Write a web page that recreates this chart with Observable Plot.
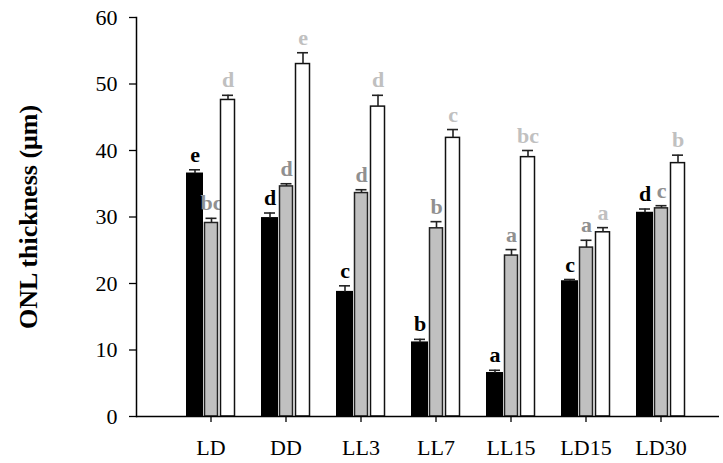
<!DOCTYPE html>
<html>
<head>
<meta charset="utf-8">
<script src="https://cdn.jsdelivr.net/npm/d3@7"></script>
<script src="https://cdn.jsdelivr.net/npm/@observablehq/plot@0.6"></script>
<style>
  html, body { margin: 0; padding: 0; background: #fff; }
  #chart { width: 723px; height: 463px; }
</style>
</head>
<body>
<div id="chart"></div>
<script>
const categories = ["LD", "DD", "LL3", "LL7", "LL15", "LD15", "LD30"];

const blackMeans = [36.5, 29.8, 18.7, 11.1, 6.5, 20.3, 30.6];
const blackErrors = [0.6, 0.8, 0.95, 0.5, 0.45, 0.3, 0.6];
const blackLetters = ["e", "d", "c", "b", "a", "c", "d"];

const grayMeans = [29.1, 34.6, 33.6, 28.3, 24.2, 25.4, 31.3];
const grayErrors = [0.7, 0.4, 0.5, 1.0, 0.9, 1.1, 0.4];
const grayLetters = ["bc", "d", "d", "b", "a", "a", "c"];

const whiteMeans = [47.6, 53.0, 46.6, 41.9, 39.0, 27.7, 38.1];
const whiteErrors = [0.7, 1.7, 1.7, 1.25, 1.0, 0.7, 1.2];
const whiteLetters = ["d", "e", "d", "c", "bc", "a", "b"];

const yTicks = [0, 10, 20, 30, 40, 50, 60];
const yLabel = "ONL thickness (μm)";

// styles for the three series (not data)
const seriesStyles = [
  {means: blackMeans, errors: blackErrors, letters: blackLetters, fill: "#000", stroke: "#000", letterColor: "#000", offset: -16, width: 15.5},
  {means: grayMeans,  errors: grayErrors,  letters: grayLetters,  fill: "#c0c0c0", stroke: "#222", letterColor: "#909090", offset: 0.5, width: 13},
  {means: whiteMeans, errors: whiteErrors, letters: whiteLetters, fill: "#fff", stroke: "#111", letterColor: "#c0c0c0", offset: 17, width: 14}
];

const halfBand = 37.5;
const capWidth = 11;
const serif = "'Liberation Serif', 'Times New Roman', serif";

const marks = [];
for (const s of seriesStyles) {
  const rows = categories.map((c, i) => ({cat: c, v: s.means[i], e: s.errors[i], top: s.means[i] + s.errors[i], letter: s.letters[i]}));
  marks.push(Plot.barY(rows, {
    x: "cat", y: "v",
    fill: s.fill, stroke: s.stroke, strokeWidth: 1.5,
    insetLeft: halfBand + s.offset - s.width / 2,
    insetRight: halfBand - s.offset - s.width / 2
  }));
  marks.push(Plot.ruleX(rows, {x: "cat", y1: "v", y2: "top", dx: s.offset, stroke: "#222", strokeWidth: 1.6}));
  marks.push(Plot.tickY(rows, {
    x: "cat", y: "top", stroke: "#222", strokeWidth: 1.6,
    insetLeft: halfBand + s.offset - capWidth / 2,
    insetRight: halfBand - s.offset - capWidth / 2
  }));
  marks.push(Plot.text(rows, {
    x: "cat", y: "top", text: "letter", dx: s.offset, dy: -8,
    lineAnchor: "bottom", fill: s.letterColor,
    fontFamily: serif, fontWeight: "bold", fontSize: 22
  }));
}

const plot = Plot.plot({
  width: 723,
  height: 463,
  marginTop: 17,
  marginBottom: 47,
  marginLeft: 136,
  marginRight: 4,
  style: {fontFamily: serif, fontSize: "22px", color: "#000", background: "#fff", overflow: "visible"},
  x: {domain: categories, range: [172.5, 697.5], padding: 0, label: null},
  y: {domain: [0, 60], label: null},
  marks: [
    ...marks,
    Plot.ruleY([0], {stroke: "#000", strokeWidth: 1.5}),
    Plot.frame({anchor: "left", stroke: "#000", strokeWidth: 1.5}),
    Plot.axisY({ticks: yTicks, tickSize: 7, tickPadding: 12, label: null, stroke: "#000", strokeWidth: 1.3, fill: "#000"}),
    Plot.axisX({tickSize: 6, tickPadding: 17, label: null, stroke: "#000", strokeWidth: 1.3, fill: "#000"}),
    Plot.text([yLabel], {frameAnchor: "left", text: d => d, rotate: -90, dx: -108, textAnchor: "middle", lineAnchor: "middle", fontWeight: "bold", fontSize: 26, fontFamily: serif, fill: "#000"})
  ]
});
document.getElementById("chart").appendChild(plot);
</script>
</body>
</html>
